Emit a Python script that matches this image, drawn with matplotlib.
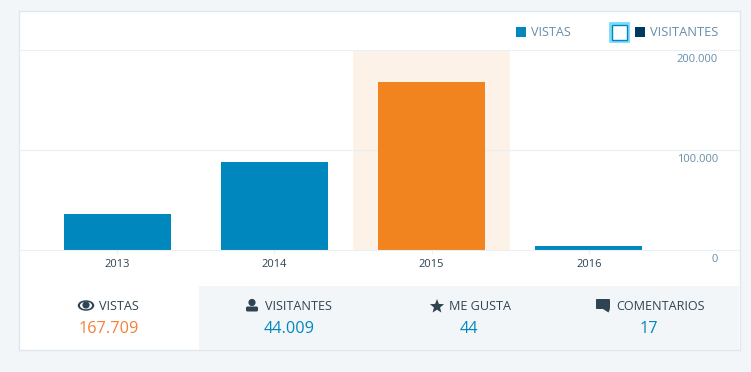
import matplotlib
matplotlib.use('Agg')
import matplotlib.pyplot as plt
import numpy as np
from matplotlib.patches import Rectangle, Circle, Ellipse, Polygon, FancyBboxPatch

plt.rcParams['font.family'] = ['Open Sans', 'DejaVu Sans']

years = ['2013', '2014', '2015', '2016']
vistas = [36000, 88000, 168000, 4000]
y_ticks = [0, 100000, 200000]
y_labels = ['0', '100.000', '200.000']
highlight = 2

tab_labels = ['VISTAS', 'VISITANTES', 'ME GUSTA', 'COMENTARIOS']
tab_values = ['167.709', '44.009', '44', '17']

BLUE = '#0087be'
ORANGE = '#f2841f'
NAVY = '#00395f'
DARK = '#2e4453'
GREY = '#668eaa'
LINE = '#e9eff3'
BG = '#f3f6f8'

W, H = 751, 372
fig = plt.figure(figsize=(W / 100, H / 100), dpi=100, facecolor=BG)

# page layer in pixels, y going down like the screenshot
bg = fig.add_axes([0, 0, 1, 1], zorder=0)
bg.set_xlim(0, W)
bg.set_ylim(H, 0)
bg.axis('off')
bg.add_patch(Rectangle((18.5, 11), 721, 339, fc='white', ec='#dfe7ee', lw=1))
bg.add_patch(Rectangle((199, 286), 540, 64, fc=BG, ec='none'))

# chart
ax = fig.add_axes([19 / W, 1 - 250 / H, 720 / W, 200 / H], zorder=1)
ax.patch.set_alpha(0)
x = np.arange(len(years))
ax.axvspan(highlight - 0.5, highlight + 0.5, color='#fdf2e8', lw=0, zorder=0)
colors = [ORANGE if i == highlight else BLUE for i in x]
ax.bar(x, vistas, width=0.68, color=colors, zorder=2)
ax.set_xlim(-0.6245, 3.955)
ax.set_ylim(0, 200000)
for t in y_ticks[1:]:
    ax.axhline(t, color=LINE, lw=0.8, zorder=1, clip_on=False)
for s in ['top', 'left', 'right']:
    ax.spines[s].set_visible(False)
ax.spines['bottom'].set_color(LINE)
ax.set_xticks(x)
ax.set_xticklabels(years, fontsize=8, color=DARK)
ax.tick_params(axis='x', length=3, width=0.8, color=LINE, pad=3.7)
ax.set_yticks([])
for t, lab in zip(y_ticks, y_labels):
    ax.annotate(lab, xy=(1, t), xycoords=ax.get_yaxis_transform(), xytext=(-15, -6.5),
                textcoords='offset points', ha='right', va='center', fontsize=8, color=GREY)

# top layer in pixels for legend and tabs
ov = fig.add_axes([0, 0, 1, 1], zorder=2)
ov.set_xlim(0, W)
ov.set_ylim(H, 0)
ov.axis('off')

ov.add_patch(Rectangle((516, 27), 10, 10, fc=BLUE, ec='none'))
ov.text(531, 33, 'VISTAS', fontsize=9.1, color=GREY, va='center', ha='left')
ov.add_patch(Rectangle((610, 23), 18, 18, fc='white', ec='#78dcfa', lw=2))
ov.add_patch(Rectangle((611.5, 24.5), 15, 15, fc='white', ec=BLUE, lw=1))
ov.add_patch(Rectangle((635, 27), 10, 10, fc=NAVY, ec='none'))
ov.text(650, 33, 'VISITANTES', fontsize=9.3, color=GREY, va='center', ha='left')

label_x = [99, 265, 449, 616]
value_x = [108.5, 289, 469, 649]
for i in range(4):
    ov.text(label_x[i], 307, tab_labels[i], fontsize=9.1, color=DARK, va='center', ha='left')
    ov.text(value_x[i], 329, tab_values[i], fontsize=11.7, va='center', ha='center',
            color='#f77f38' if i == 0 else BLUE)

# eye
ov.add_patch(Ellipse((86, 305.5), 16.5, 10.5, fc=DARK, ec='none'))
ov.add_patch(Ellipse((86, 305.5), 12, 7.5, fc='white', ec='none'))
ov.add_patch(Circle((86, 305), 3.6, fc=DARK, ec='none'))
# person
ov.add_patch(Circle((252, 302.5), 3.6, fc=DARK, ec='none'))
ov.add_patch(FancyBboxPatch((247.5, 308), 9, 2, boxstyle='round,pad=1.5', fc=DARK, ec='none'))
# star
ang = np.pi / 2 + np.arange(10) * np.pi / 5
rad = np.where(np.arange(10) % 2 == 0, 7.5, 3.2)
ov.add_patch(Polygon(np.c_[437 + rad * np.cos(ang), 306.5 - rad * np.sin(ang)], fc=DARK, ec='none'))
# comment
ov.add_patch(FancyBboxPatch((597, 300), 12, 8, boxstyle='round,pad=1', fc=DARK, ec='none'))
ov.add_patch(Polygon([[603, 309], [610, 309], [608.5, 312.5]], fc=DARK, ec='none'))

fig.savefig('out.png', dpi=100, facecolor=fig.get_facecolor())
